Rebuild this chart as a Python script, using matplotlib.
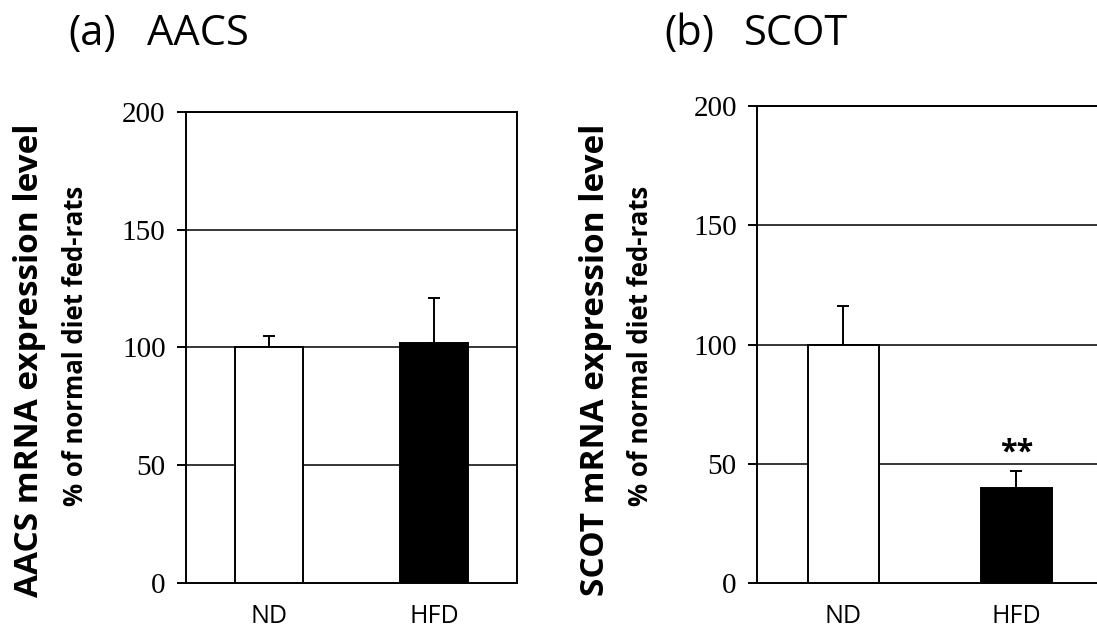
import matplotlib

matplotlib.use("Agg")
import matplotlib.pyplot as plt

# ── Data
groups = ["ND", "HFD"]
aacs_mean = [100, 102]
aacs_err = [5, 19]
scot_mean = [100, 40]
scot_err = [16, 7]
yticks = [0, 50, 100, 150, 200]

bar_colors = ["white", "black"]
SANS = ["Open Sans", "DejaVu Sans"]
SERIF = ["Liberation Serif", "DejaVu Serif"]

fig = plt.figure(figsize=(10.97, 6.36), dpi=100)

ax1 = fig.add_axes([0.1693, 0.0833, 0.3020, 0.7411])
ax2 = fig.add_axes([0.6900, 0.0833, 0.3154, 0.7500])


def _draw_panel(ax, means, errs):
    x = range(len(groups))
    for y in yticks[1:]:
        ax.axhline(y, color="black", linewidth=1.1, zorder=1)
    ax.bar(x, means, width=0.41, color=bar_colors, edgecolor="black",
           linewidth=1.4, zorder=3)
    ax.errorbar(x, means, yerr=[[0] * len(errs), errs], fmt="none",
                ecolor="black", elinewidth=1.4, capsize=4.3, capthick=1.4,
                zorder=2)
    ax.set_xlim(-0.5, 1.5)
    ax.set_ylim(0, 200)
    ax.set_yticks(yticks)
    ax.set_yticklabels([str(v) for v in yticks], fontfamily=SERIF, fontsize=21)
    ax.set_xticks(list(x))
    ax.set_xticklabels(groups, fontfamily=SANS, fontsize=18)
    ax.tick_params(axis="x", length=0, pad=15)
    ax.tick_params(axis="y", direction="out", length=6.5, width=1.4, pad=8)
    for s in ax.spines.values():
        s.set_linewidth(1.4)


_draw_panel(ax1, aacs_mean, aacs_err)
_draw_panel(ax2, scot_mean, scot_err)

# significance mark
ax2.text(1, scot_mean[1] + scot_err[1] + 1.5, "**", ha="center", va="bottom",
         fontsize=22, fontweight="bold", fontfamily=SANS)

# panel titles
fig.text(68 / 1097, 1 - 45 / 636, "(a)", fontsize=30, fontfamily=SANS,
         va="baseline")
fig.text(147 / 1097, 1 - 45 / 636, "AACS", fontsize=30, fontfamily=SANS,
         va="baseline")
fig.text(664 / 1097, 1 - 45 / 636, "(b)", fontsize=30, fontfamily=SANS,
         va="baseline")
fig.text(744 / 1097, 1 - 45 / 636, "SCOT", fontsize=30, fontfamily=SANS,
         va="baseline")

# y labels (two lines each)
fig.text(30 / 1097, 1 - 360 / 636, "AACS mRNA expression level", rotation=90,
         ha="center", va="center", fontsize=24, fontweight="bold",
         fontfamily=SANS)
fig.text(76 / 1097, 1 - 346 / 636, "% of normal diet fed-rats", rotation=90,
         ha="center", va="center", fontsize=18.5, fontweight="bold",
         fontfamily=SANS)
fig.text(596 / 1097, 1 - 360 / 636, "SCOT mRNA expression level", rotation=90,
         ha="center", va="center", fontsize=24, fontweight="bold",
         fontfamily=SANS)
fig.text(641 / 1097, 1 - 346 / 636, "% of normal diet fed-rats", rotation=90,
         ha="center", va="center", fontsize=18.5, fontweight="bold",
         fontfamily=SANS)

fig.savefig("out.png", dpi=100)
